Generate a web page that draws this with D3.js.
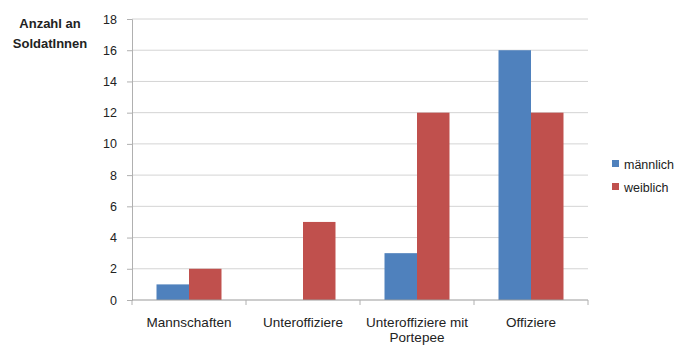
<!DOCTYPE html>
<html>
<head>
<meta charset="utf-8">
<script src="https://cdn.jsdelivr.net/npm/d3@7.9.0/dist/d3.min.js"></script>
<style>
  body { margin: 0; background: #fff; }
  text { font-family: "Liberation Sans", Arial, sans-serif; fill: #222; }
</style>
</head>
<body>
<svg id="chart" width="681" height="345"></svg>
<script>
// ===== data =====
const categories = ['Mannschaften', 'Unteroffiziere', 'Unteroffiziere mit Portepee', 'Offiziere'];
const categoryLines = [['Mannschaften'], ['Unteroffiziere'], ['Unteroffiziere mit', 'Portepee'], ['Offiziere']];
const seriesNames = ['männlich', 'weiblich'];
const maleValues   = [1, 0, 3, 16];
const femaleValues = [2, 5, 12, 12];
const yTicks = [0, 2, 4, 6, 8, 10, 12, 14, 16, 18];
const colors = ['#4F81BD', '#C0504D'];

const svg = d3.select('#chart');
const plotLeft = 132, plotRight = 588, plotTop = 19, plotBottom = 300;

const x0 = d3.scaleBand().domain(categories).range([plotLeft, plotRight]).padding(0);
const x1 = d3.scaleBand().domain(seriesNames).range([0, x0.bandwidth()])
  .paddingInner(0).paddingOuter(0.754);
const y = d3.scaleLinear().domain([0, 18]).range([plotBottom, plotTop]);
const color = d3.scaleOrdinal().domain(seriesNames).range(colors);

// gridlines
svg.append('g')
  .selectAll('line')
  .data(yTicks.filter(d => d > 0))
  .join('line')
    .attr('x1', plotLeft).attr('x2', plotRight)
    .attr('y1', d => y(d)).attr('y2', d => y(d))
    .attr('stroke', '#d4d4d4').attr('stroke-width', 1);

// y axis
const yAxis = svg.append('g')
  .attr('transform', `translate(${plotLeft},0)`)
  .call(d3.axisLeft(y).tickValues(yTicks).tickSize(5).tickPadding(10));
yAxis.select('.domain').attr('stroke', '#b0b0b0');
yAxis.selectAll('.tick line').attr('stroke', '#b0b0b0');
yAxis.selectAll('.tick text')
  .attr('font-size', 12.5).attr('fill', '#333')
  .style('font-family', '"Liberation Sans", Arial, sans-serif');

// bars
const rows = categories.map((c, i) => ({ cat: c, values: [maleValues[i], femaleValues[i]] }));
svg.append('g')
  .selectAll('g')
  .data(rows)
  .join('g')
    .attr('transform', d => `translate(${x0(d.cat)},0)`)
  .selectAll('rect')
  .data(d => seriesNames.map((s, j) => ({ s, v: d.values[j] })))
  .join('rect')
    .attr('x', d => x1(d.s))
    .attr('width', x1.bandwidth())
    .attr('y', d => y(d.v))
    .attr('height', d => y(0) - y(d.v))
    .attr('fill', d => color(d.s));

// x axis
const xAxisG = svg.append('g').attr('transform', `translate(0,${plotBottom})`);
xAxisG.append('line')
  .attr('x1', plotLeft).attr('x2', plotRight)
  .attr('stroke', '#9a9a9a');
xAxisG.selectAll('line.tk')
  .data(categories.map(c => x0(c)).concat([plotRight]))
  .join('line')
    .attr('class', 'tk')
    .attr('x1', d => d).attr('x2', d => d)
    .attr('y1', 0).attr('y2', 5)
    .attr('stroke', '#b0b0b0');
xAxisG.selectAll('text')
  .data(categories)
  .join('text')
    .attr('text-anchor', 'middle')
    .attr('font-size', 13.5)
    .attr('fill', '#333')
    .attr('transform', d => `translate(${x0(d) + x0.bandwidth() / 2},0)`)
  .selectAll('tspan')
  .data((d, i) => categoryLines[i])
  .join('tspan')
    .attr('x', 0)
    .attr('y', (d, i) => 27 + i * 15)
    .text(d => d);

// y title
svg.append('text')
  .attr('text-anchor', 'middle')
  .attr('font-size', 13)
  .attr('font-weight', 'bold')
  .attr('fill', '#222')
  .selectAll('tspan')
  .data(['Anzahl an', 'SoldatInnen'])
  .join('tspan')
    .attr('x', 50)
    .attr('y', (d, i) => 28 + i * 20)
    .text(d => d);

// legend
const legend = svg.append('g').attr('transform', 'translate(612,0)');
const items = legend.selectAll('g')
  .data(seriesNames)
  .join('g')
    .attr('transform', (d, i) => `translate(0,${164 + i * 23})`);
items.append('rect')
  .attr('x', 0).attr('y', -4).attr('width', 7).attr('height', 7)
  .attr('fill', d => color(d));
items.append('text')
  .attr('x', 12).attr('y', 4.5)
  .attr('font-size', 12.5)
  .attr('fill', '#333')
  .text(d => d);
</script>
</body>
</html>
